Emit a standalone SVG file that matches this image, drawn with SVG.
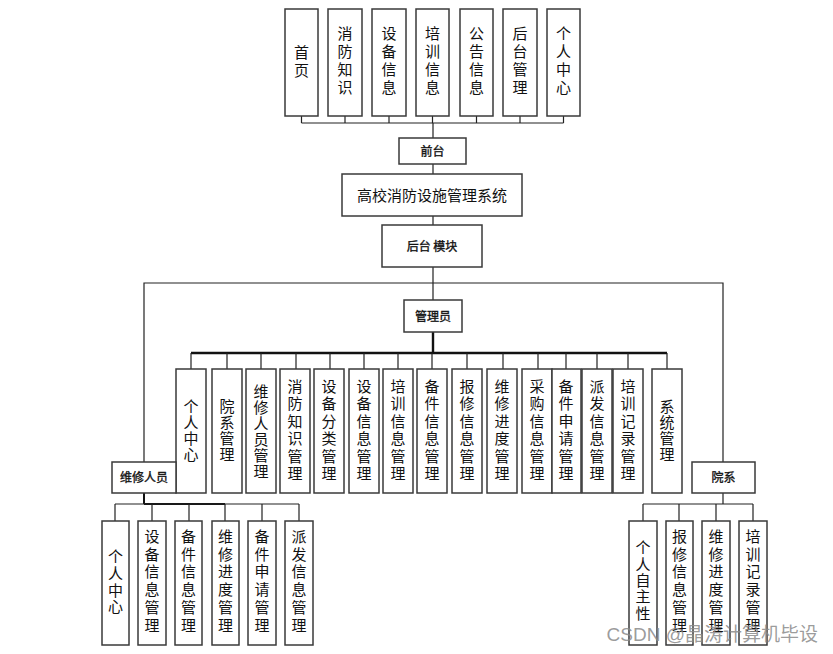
<svg xmlns="http://www.w3.org/2000/svg" width="833" height="654" viewBox="0 0 833 654">
<defs>
<style>
.b{fill:#fff;stroke:#3a3a3a;stroke-width:1.5}
.t{font-family:"Noto Sans CJK SC","Noto Sans",sans-serif;font-size:15px;fill:#111;text-anchor:middle}
.v{font-family:"Noto Sans CJK SC","Noto Sans",sans-serif;font-size:15px;fill:#111;text-anchor:middle;writing-mode:vertical-rl;text-orientation:upright}
.top{letter-spacing:3.3px}
.a4{letter-spacing:1px}
.a6{letter-spacing:2.5px}
.r4{letter-spacing:1.7px}
.r5{letter-spacing:1.3px}
.r6{letter-spacing:2.7px}
.s{font-family:"Noto Sans CJK SC","Noto Sans",sans-serif;font-size:12px;fill:#111;stroke:#111;stroke-width:0.35;text-anchor:middle}
.c{fill:none;stroke:#222;stroke-width:1.2}
.k{fill:none;stroke:#111;stroke-width:2.4}
</style>
</defs>
<rect width="833" height="654" fill="#fff"/>
<g id="connectors">
<path class="c" d="M301.5 116V123M345 116V123M389 116V123M432.5 116V123M476.5 116V123M520 116V123M563.5 116V123M301.5 123H563.5"/>
<path class="c" d="M433 123V138M433 164V174M433 216V225M433 267V300"/>
<path class="c" d="M144 462V283H723V462"/>
<path class="k" d="M433 332V353M191 353H667"/>
<path class="c" d="M191 353V369M227 353V369M261 353V369M296 353V369M330 353V369M364 353V369M398 353V369M432 353V369M467 353V369M503 353V369M538 353V369M566 353V369M597 353V369M628 353V369M667 353V369"/>
<path class="k" d="M144 493V504M144 504H225" style="stroke-width:2"/>
<path class="c" d="M115 504H299M115 504V521M152 504V521M189 504V521M225 504V521M262 504V521M299 504V521"/>
<path class="c" d="M723 493V504M643 504H753M643 504V521M679 504V521M716 504V521M753 504V521"/>
</g>
<g id="n-home"><rect class="b" x="285" y="9" width="33" height="107"/><text class="v top" x="301.5" y="63">首页</text></g>
<g id="n-knowledge"><rect class="b" x="328" y="9" width="34" height="107"/><text class="v top" x="345" y="62">消防知识</text></g>
<g id="n-device"><rect class="b" x="372" y="9" width="34" height="107"/><text class="v top" x="389" y="62">设备信息</text></g>
<g id="n-train"><rect class="b" x="416" y="9" width="33" height="107"/><text class="v top" x="432.5" y="62">培训信息</text></g>
<g id="n-notice"><rect class="b" x="460" y="9" width="33" height="107"/><text class="v top" x="476.5" y="62">公告信息</text></g>
<g id="n-backend"><rect class="b" x="503" y="9" width="34" height="107"/><text class="v top" x="520" y="62">后台管理</text></g>
<g id="n-personal"><rect class="b" x="547" y="9" width="33" height="107"/><text class="v top" x="563.5" y="62">个人中心</text></g>
<g id="n-front"><rect class="b" x="399" y="138" width="67" height="26"/><text class="s" x="432.5" y="155.5">前台</text></g>
<g id="n-system"><rect class="b" x="342" y="174" width="180" height="42"/><text class="t" x="432" y="200.5">高校消防设施管理系统</text></g>
<g id="n-backmod"><rect class="b" x="382" y="225" width="100" height="42"/><text class="s" x="432" y="250.5">后台 模块</text></g>
<g id="n-admin"><rect class="b" x="404" y="300" width="58" height="32"/><text class="s" x="433" y="320.5">管理员</text></g>
<g id="a1"><rect class="b" x="176" y="369" width="30" height="124"/><text class="v a4" x="191" y="430.5">个人中心</text></g>
<g id="a2"><rect class="b" x="212" y="369" width="30" height="124"/><text class="v a4" x="227" y="430.5">院系管理</text></g>
<g id="a3"><rect class="b" x="246" y="369" width="30" height="124"/><text class="v a4" x="261" y="431.5">维修人员管理</text></g>
<g id="a4"><rect class="b" x="280" y="369" width="30" height="124"/><text class="v a6" x="295" y="431">消防知识管理</text></g>
<g id="a5"><rect class="b" x="314" y="369" width="30" height="124"/><text class="v a6" x="329" y="431">设备分类管理</text></g>
<g id="a6"><rect class="b" x="349" y="369" width="30" height="124"/><text class="v a6" x="364" y="431">设备信息管理</text></g>
<g id="a7"><rect class="b" x="383" y="369" width="30" height="124"/><text class="v a6" x="398" y="431">培训信息管理</text></g>
<g id="a8"><rect class="b" x="417" y="369" width="30" height="124"/><text class="v a6" x="432" y="431">备件信息管理</text></g>
<g id="a9"><rect class="b" x="452" y="369" width="30" height="124"/><text class="v a6" x="467" y="431">报修信息管理</text></g>
<g id="a10"><rect class="b" x="487" y="369" width="30" height="124"/><text class="v a6" x="502" y="431">维修进度管理</text></g>
<g id="a11"><rect class="b" x="522" y="369" width="30" height="124"/><text class="v a6" x="537" y="431">采购信息管理</text></g>
<g id="a12"><rect class="b" x="552" y="369" width="29" height="124"/><text class="v a6" x="566" y="431">备件申请管理</text></g>
<g id="a13"><rect class="b" x="582" y="369" width="30" height="124"/><text class="v a6" x="597" y="431">派发信息管理</text></g>
<g id="a14"><rect class="b" x="613" y="369" width="30" height="124"/><text class="v a6" x="628" y="431">培训记录管理</text></g>
<g id="a15"><rect class="b" x="652" y="369" width="30" height="124"/><text class="v a4" x="667" y="430.5">系统管理</text></g>
<g id="n-repair"><rect class="b" x="112" y="462" width="64" height="31"/><text class="s" x="144" y="482">维修人员</text></g>
<g id="n-dept"><rect class="b" x="692" y="462" width="63" height="31"/><text class="s" x="723.5" y="482">院系</text></g>
<g id="r1"><rect class="b" x="102" y="521" width="27" height="124"/><text class="v r4" x="115.5" y="582.5">个人中心</text></g>
<g id="r2"><rect class="b" x="138" y="521" width="28" height="124"/><text class="v r6" x="152" y="582">设备信息管理</text></g>
<g id="r3"><rect class="b" x="175" y="521" width="27" height="124"/><text class="v r6" x="188.5" y="582">备件信息管理</text></g>
<g id="r4"><rect class="b" x="212" y="521" width="27" height="124"/><text class="v r6" x="225.5" y="582">维修进度管理</text></g>
<g id="r5"><rect class="b" x="248" y="521" width="28" height="124"/><text class="v r6" x="262" y="582">备件申请管理</text></g>
<g id="r6"><rect class="b" x="285" y="521" width="28" height="124"/><text class="v r6" x="299" y="582">派发信息管理</text></g>
<g id="d1"><rect class="b" x="629" y="521" width="28" height="124"/><text class="v r5" x="643" y="581">个人自主性</text></g>
<g id="d2"><rect class="b" x="666" y="521" width="27" height="124"/><text class="v r6" x="679.5" y="582">报修信息管理</text></g>
<g id="d3"><rect class="b" x="702" y="521" width="28" height="124"/><text class="v r6" x="716" y="582">维修进度管理</text></g>
<g id="d4"><rect class="b" x="739" y="521" width="28" height="124"/><text class="v r6" x="753" y="582">培训记录管理</text></g>
<text x="818" y="641" font-family="'Liberation Sans','Noto Sans CJK SC',sans-serif" font-size="19" fill="#8a8a8a" fill-opacity="0.85" text-anchor="end">CSDN @晶涛计算机毕设</text>
</svg>
